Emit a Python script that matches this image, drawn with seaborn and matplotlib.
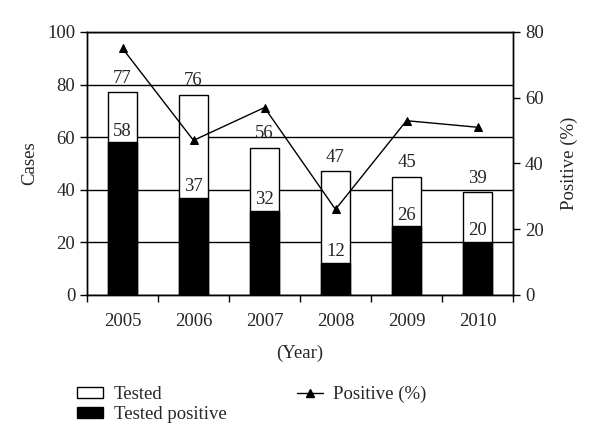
import numpy as np
import pandas as pd
import seaborn as sns
import matplotlib
matplotlib.use("Agg")
import matplotlib.pyplot as plt
from matplotlib.patches import Patch
from matplotlib.lines import Line2D

# data
years = ["2005", "2006", "2007", "2008", "2009", "2010"]
tested = [77, 76, 56, 47, 45, 39]
tested_pos = [58, 37, 32, 12, 26, 20]
positive_pct = [75, 47, 57, 26, 53, 51]

df = pd.DataFrame({"year": years, "tested": tested,
                   "tested_pos": tested_pos, "pct": positive_pct})

sns.set_style("white")
plt.rcParams["font.family"] = ["Liberation Serif", "DejaVu Serif"]
plt.rcParams["font.size"] = 13.5

fig = plt.figure(figsize=(6, 4.44), dpi=100)
ax = fig.add_axes([0.145, 0.336, 0.710, 0.592])

# horizontal grid lines under the bars
ax.set_axisbelow(True)
ax.yaxis.grid(True, color="black", linewidth=1)

sns.barplot(data=df, x="year", y="tested", ax=ax, color="white",
            edgecolor="black", linewidth=1, width=0.41, saturation=1)
sns.barplot(data=df, x="year", y="tested_pos", ax=ax, color="black",
            edgecolor="black", linewidth=1, width=0.41, saturation=1)

# value labels
for i in range(len(years)):
    ax.annotate(str(tested[i]), (i, tested[i]), xytext=(0, 4),
                textcoords="offset points", ha="center", va="bottom")
    ax.annotate(str(tested_pos[i]), (i, tested_pos[i]), xytext=(0, 2),
                textcoords="offset points", ha="center", va="bottom")

ax.set_ylim(0, 100)
ax.set_yticks([0, 20, 40, 60, 80, 100])
ax.set_xlim(-0.5, 5.5)
ax.set_xticks(np.arange(-0.5, 6, 1), minor=True)
ax.tick_params(axis="x", which="major", length=0, pad=13)
ax.tick_params(axis="x", which="minor", length=5, width=1, color="black",
               direction="out", bottom=True)
ax.tick_params(axis="y", length=5, width=1, color="black", direction="out",
               left=True)
ax.set_xlabel("(Year)", labelpad=11)
ax.set_ylabel("Cases", labelpad=6)
for s in ax.spines.values():
    s.set_color("black")
    s.set_linewidth(1)

# percentage line on right axis
ax2 = ax.twinx()
sns.pointplot(data=df, x="year", y="pct", ax=ax2, color="black",
              markers="^", linestyles="-", linewidth=1, markersize=6)
ax2.set_ylim(0, 80)
ax2.set_yticks([0, 20, 40, 60, 80])
ax2.set_xlim(-0.5, 5.5)
ax2.set_ylabel("Positive (%)", labelpad=12)
ax2.set_xlabel("")
ax2.tick_params(axis="y", length=5, width=1, color="black", direction="out",
                right=True)
for s in ax2.spines.values():
    s.set_color("black")
    s.set_linewidth(1)

handles = [Patch(facecolor="white", edgecolor="black", label="Tested"),
           Patch(facecolor="black", edgecolor="black", label="Tested positive"),
           Line2D([0], [0], color="black", linewidth=1, marker="^",
                  markersize=6, label="Positive (%)")]
fig.legend(handles=handles, ncol=2, loc="upper left",
           bbox_to_anchor=(0.113, 0.152), frameon=False, borderpad=0,
           handlelength=1.4, handleheight=0.5, handletextpad=0.55,
           labelspacing=0.15, columnspacing=3.75, fontsize=13.5)

fig.savefig("out.png", dpi=100)
